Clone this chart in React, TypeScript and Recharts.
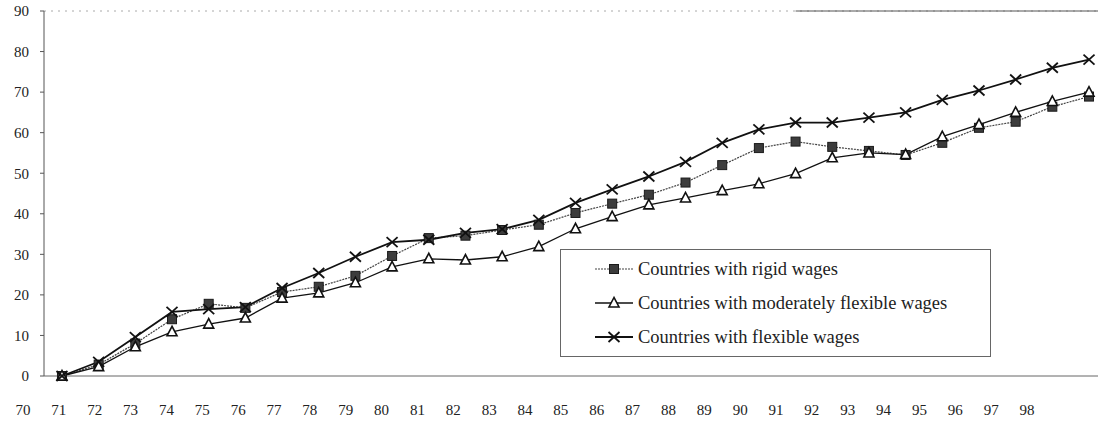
import React from "react";
import {
  LineChart,
  Line,
  XAxis,
  YAxis,
  ReferenceLine,
} from "recharts";

const years = [71, 72, 73, 74, 75, 76, 77, 78, 79, 80, 81, 82, 83, 84, 85, 86, 87, 88, 89, 90, 91, 92, 93, 94, 95, 96, 97, 98, 99];
const rigid = [0, 2.8, 8, 14, 17.8, 16.8, 20.7, 22, 24.7, 29.6, 34, 34.6, 36, 37.3, 40.2, 42.5, 44.7, 47.7, 52, 56.2, 57.8, 56.5, 55.5, 54.5, 57.5, 61.2, 62.7, 66.4, 68.9];
const moderate = [0, 2.3, 7.2, 10.9, 12.8, 14.3, 19.2, 20.5, 23, 26.9, 28.9, 28.6, 29.4, 31.9, 36.3, 39.3, 42.2, 43.9, 45.7, 47.4, 49.9, 53.8, 55, 54.6, 59, 62, 65, 67.7, 70];
const flexible = [0, 3.5, 9.6, 15.8, 16.5, 17, 21.7, 25.4, 29.4, 33, 33.6, 35.3, 36.2, 38.5, 42.7, 46, 49.2, 52.8, 57.5, 60.8, 62.5, 62.5, 63.7, 65, 68.1, 70.4, 73.1, 76, 78];
const xLabels = [70, 71, 72, 73, 74, 75, 76, 77, 78, 79, 80, 81, 82, 83, 84, 85, 86, 87, 88, 89, 90, 91, 92, 93, 94, 95, 96, 97, 98];
const yTicks = [0, 10, 20, 30, 40, 50, 60, 70, 80, 90];

const seriesNames = [
  "Countries with rigid wages",
  "Countries with moderately flexible wages",
  "Countries with flexible wages",
];

const data = years.map((year, i) => ({
  year,
  rigid: rigid[i],
  moderate: moderate[i],
  flexible: flexible[i],
}));

const FONT = '"Liberation Serif", "Times New Roman", serif';

function SquareMark({ cx, cy }: { cx?: number; cy?: number }) {
  if (cx == null || cy == null) return null;
  return <rect x={cx - 4.5} y={cy - 4.5} width={9} height={9} fill="#3c3c3c" stroke="#1a1a1a" strokeWidth={1} />;
}

function TriangleMark({ cx, cy }: { cx?: number; cy?: number }) {
  if (cx == null || cy == null) return null;
  return (
    <polygon
      points={`${cx},${cy - 5.5} ${cx - 5},${cy + 4} ${cx + 5},${cy + 4}`}
      fill="#fff"
      stroke="#111"
      strokeWidth={1.6}
    />
  );
}

function CrossMark({ cx, cy }: { cx?: number; cy?: number }) {
  if (cx == null || cy == null) return null;
  return (
    <g stroke="#111" strokeWidth={1.8}>
      <line x1={cx - 5.5} y1={cy - 5} x2={cx + 5.5} y2={cy + 5} />
      <line x1={cx - 5.5} y1={cy + 5} x2={cx + 5.5} y2={cy - 5} />
    </g>
  );
}

function LegendBox() {
  const marks = [
    <SquareMark cx={19} cy={8} />,
    <TriangleMark cx={19} cy={8} />,
    <CrossMark cx={19} cy={8} />,
  ];
  const strokes = [
    { stroke: "#444", dash: "2 1", w: 1.2 },
    { stroke: "#111", dash: undefined, w: 1.3 },
    { stroke: "#111", dash: undefined, w: 1.8 },
  ];
  return (
    <div
      style={{
        position: "absolute",
        left: 560,
        top: 249,
        width: 431,
        height: 108,
        border: "1px solid #666",
        boxSizing: "border-box",
        background: "#fff",
        fontFamily: FONT,
        fontSize: 18.5,
        color: "#222",
        paddingTop: 2,
      }}
    >
      {seriesNames.map((name, i) => (
        <div key={name} style={{ display: "flex", alignItems: "center", height: 34, paddingLeft: 34 }}>
          <svg width={40} height={16} style={{ marginRight: 3, flex: "none" }}>
            <line x1={0} y1={8} x2={38} y2={8} stroke={strokes[i].stroke} strokeWidth={strokes[i].w} strokeDasharray={strokes[i].dash} />
            {marks[i]}
          </svg>
          <span style={{ whiteSpace: "nowrap" }}>{name}</span>
        </div>
      ))}
    </div>
  );
}

export default function App() {
  return (
    <div style={{ position: "absolute", left: 0, top: 0, width: 1100, height: 427, background: "#fff" }}>
      <LineChart width={1100} height={427} data={data} margin={{ top: 11, right: 2, bottom: 0, left: 0 }}>
        <XAxis
          xAxisId="main"
          dataKey="year"
          type="number"
          domain={[70.51, 99.245]}
          allowDataOverflow
          hide
        />
        <XAxis
          xAxisId="lbl"
          dataKey="year"
          type="number"
          domain={[70.586, 99.98]}
          allowDataOverflow
          ticks={xLabels}
          interval={0}
          height={51}
          tickLine={false}
          tickSize={6}
          tickMargin={22}
          stroke="#666"
          tick={{ fill: "#222", fontSize: 15, fontFamily: FONT }}
        />
        <YAxis
          type="number"
          domain={[0, 90]}
          ticks={yTicks}
          interval={0}
          width={44}
          tickSize={4}
          tickMargin={11}
          stroke="#555"
          tick={{ fill: "#222", fontSize: 15, fontFamily: FONT }}
        />
        <ReferenceLine xAxisId="main" y={90} stroke="#aaa" strokeDasharray="2 5" />
        <ReferenceLine
          xAxisId="main"
          segment={[{ x: 91, y: 90 }, { x: 99.245, y: 90 }]}
          stroke="#555"
        />
        <Line
          xAxisId="main"
          dataKey="rigid"
          name={seriesNames[0]}
          stroke="#444"
          strokeWidth={1.2}
          strokeDasharray="2 1"
          dot={<SquareMark />}
          activeDot={false}
          isAnimationActive={false}
        />
        <Line
          xAxisId="main"
          dataKey="moderate"
          name={seriesNames[1]}
          stroke="#111"
          strokeWidth={1.3}
          dot={<TriangleMark />}
          activeDot={false}
          isAnimationActive={false}
        />
        <Line
          xAxisId="main"
          dataKey="flexible"
          name={seriesNames[2]}
          stroke="#111"
          strokeWidth={1.8}
          dot={<CrossMark />}
          activeDot={false}
          isAnimationActive={false}
        />
      </LineChart>
      <LegendBox />
    </div>
  );
}
